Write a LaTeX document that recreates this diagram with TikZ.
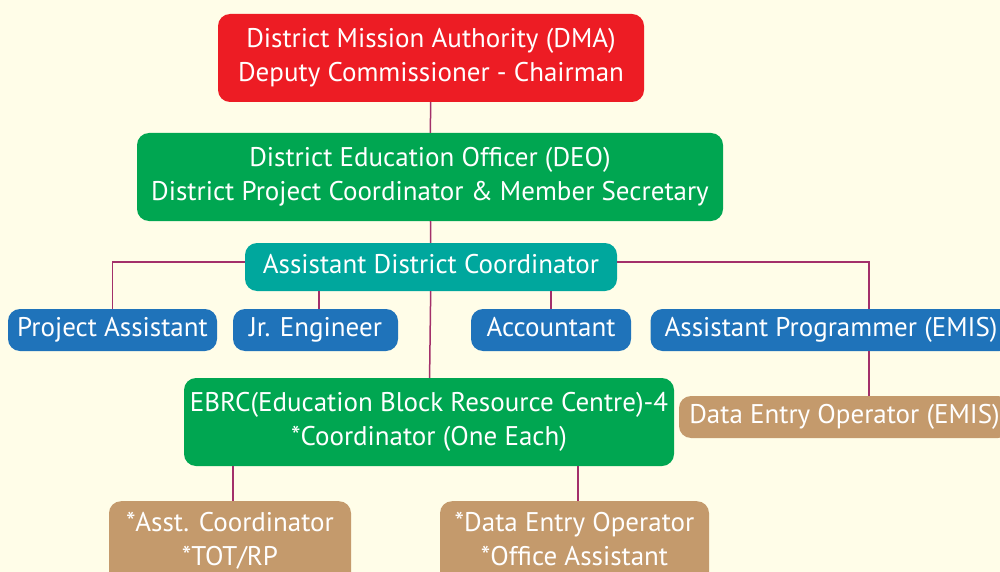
\documentclass[tikz,border=0pt]{standalone}
\usepackage{fontspec}
\setmainfont{PT Sans}
\definecolor{bgcream}{HTML}{FFFDE8}
\definecolor{dmared}{HTML}{ED1C24}
\definecolor{deogreen}{HTML}{00A651}
\definecolor{adcteal}{HTML}{00A79D}
\definecolor{staffblue}{HTML}{1F73BA}
\definecolor{optan}{HTML}{C49A6C}
\definecolor{linkred}{HTML}{A3306A}
\tikzset{
  box/.style={rounded corners=12pt,text=white,align=center,inner sep=0pt,
    font=\fontsize{27}{34}\selectfont},
  onebox/.style={box,execute at begin node=\strut},
  link/.style={draw=linkred,line width=1.5pt}
}
\begin{document}
\begin{tikzpicture}[x=1pt,y=-1pt]
    \fill[bgcream] (0,0) rectangle (1000,572);
    \clip (0,0) rectangle (1000,572);

    \node[box,fill=dmared,minimum width=426,minimum height=88] (dma) at (431,58)
        {District Mission Authority (DMA)\\Deputy Commissioner - Chairman};
    \node[box,fill=deogreen,minimum width=586,minimum height=88] (deo) at (430,177)
        {District Education Officer (DEO)\\District Project Coordinator \& Member Secretary};
    \node[onebox,fill=adcteal,minimum width=372,minimum height=48] (adc) at (431,267)
        {Assistant District Coordinator};

    \node[onebox,fill=staffblue,minimum width=209,minimum height=42] (pa) at (112.5,330) {Project Assistant};
    \node[onebox,fill=staffblue,minimum width=165,minimum height=42] (je) at (315.5,330) {Jr. Engineer};
    \node[onebox,fill=staffblue,minimum width=160,minimum height=42] (acc) at (551,330) {Accountant};
    \node[onebox,fill=staffblue,minimum width=361,minimum height=42] (ap) at (831,330) {Assistant Programmer (EMIS)};

    \node[box,fill=deogreen,minimum width=490,minimum height=88] (ebrc) at (429,422)
        {EBRC(Education Block Resource Centre)-4\\*Coordinator (One Each)};
    \node[onebox,fill=optan,minimum width=331,minimum height=42] (dop) at (844.5,417) {Data Entry Operator (EMIS)};

    \node[box,fill=optan,minimum width=242,minimum height=110,anchor=north] (asst) at (230,501)
        {*Asst. Coordinator\\*TOT/RP\\\mbox{}};
    \node[box,fill=optan,minimum width=269,minimum height=110,anchor=north] (deoff) at (574.5,501)
        {*Data Entry Operator\\*Office Assistant\\\mbox{}};

    % connectors
    \draw[link] (dma) -- (deo);
    \draw[link] (deo) -- (adc);
    \draw[link] (adc) -- (ebrc);
    \draw[link] (adc.west |- 0,262) -| (pa.north);
    \draw[link] (adc.east |- 0,262) -| (ap.north -| 869,0);
    \draw[link] (adc.south -| 319,0) -- (je.north -| 319,0);
    \draw[link] (adc.south -| acc.north) -- (acc.north);
    \draw[link] (ap.south -| 869,0) -- (dop.north -| 869,0);
    \draw[link] (ebrc.south -| 233,0) -- (asst.north -| 233,0);
    \draw[link] (ebrc.south -| 578,0) -- (deoff.north -| 578,0);
\end{tikzpicture}
\end{document}
